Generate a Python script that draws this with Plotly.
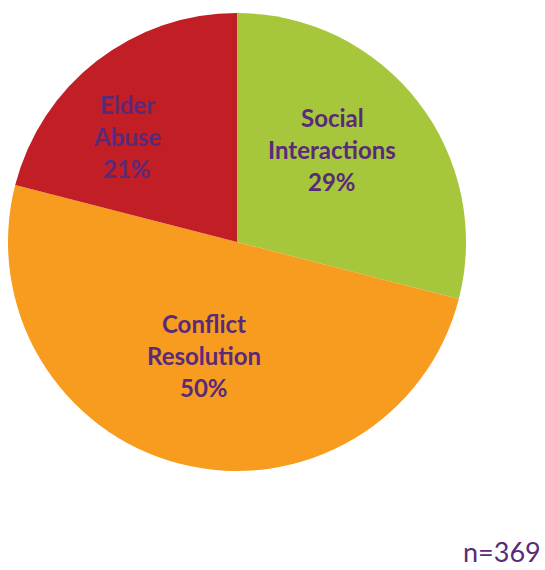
import plotly.graph_objects as go

# Share of cases by category
categories = ["Social Interactions", "Conflict Resolution", "Elder Abuse"]
shares = [29, 50, 21]
colors = ["#A6C63B", "#F79C1F", "#C21E26"]
sample_size = 369

# Label block centres (paper fractions) and line spacing in pixels
label_centres = [(332 / 545, 1 - 150 / 570), (204 / 545, 1 - 355 / 570), (127 / 545, 1 - 137 / 570)]
line_gap = 32
label_font = dict(family="Lato", size=24, color="#5A2A7A", weight="bold")

fig = go.Figure(
    go.Pie(
        labels=categories,
        values=shares,
        sort=False,
        direction="clockwise",
        rotation=0,
        marker=dict(colors=colors, line=dict(width=0)),
        textinfo="none",
        hoverinfo="skip",
        showlegend=False,
        domain=dict(x=[8 / 545, 466 / 545], y=[1 - 471 / 570, 1 - 13 / 570]),
    )
)

total = sum(shares)
for name, value, (cx, cy) in zip(categories, shares, label_centres):
    lines = name.split(" ") + [f"{round(100 * value / total)}%"]
    mid = (len(lines) - 1) / 2
    for i, line in enumerate(lines):
        fig.add_annotation(
            text=line, x=cx, y=cy, xref="paper", yref="paper",
            xanchor="center", yanchor="middle",
            yshift=(mid - i) * line_gap,
            showarrow=False, font=label_font,
        )

fig.add_annotation(
    text=f"n={sample_size}",
    x=1.0, y=0.0, xref="paper", yref="paper",
    xanchor="right", yanchor="bottom", xshift=-2, yshift=0,
    showarrow=False,
    font=dict(family="Lato", size=27, color="#5A2A7A"),
)

fig.update_layout(
    width=545, height=570,
    margin=dict(l=0, r=0, t=0, b=0),
    paper_bgcolor="white",
    plot_bgcolor="white",
)

fig.write_html("out.html")
